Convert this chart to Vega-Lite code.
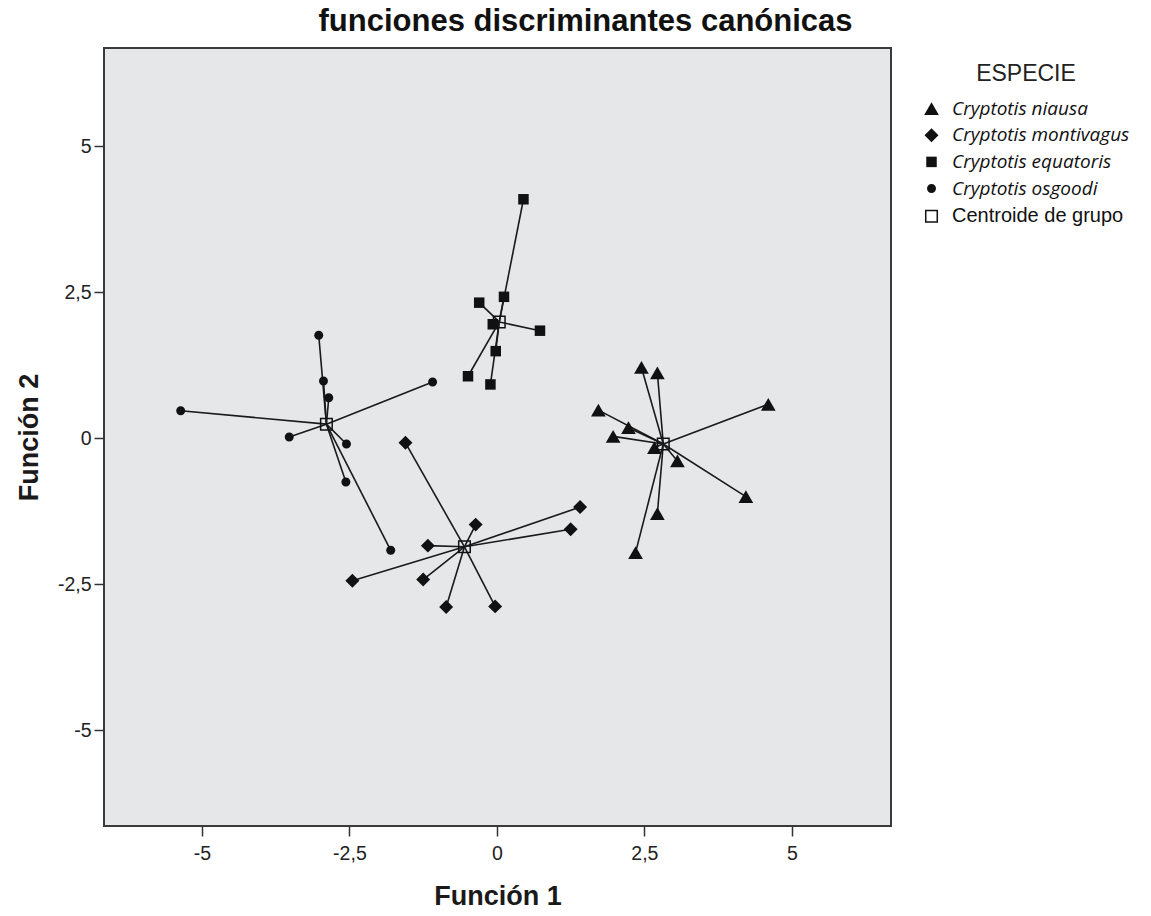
{
  "$schema": "https://vega.github.io/schema/vega-lite/v6.json",
  "width": 787,
  "height": 778,
  "autosize": {"type": "none"},
  "padding": {"left": 104, "top": 48, "right": 260, "bottom": 90},
  "background": "white",
  "title": {
    "text": "funciones discriminantes canónicas",
    "font": "Liberation Sans",
    "fontSize": 31,
    "fontWeight": "bold",
    "color": "#111",
    "anchor": "middle",
    "frame": "group",
    "dx": 88,
    "offset": 10
  },
  "datasets": {
    "pts": [
      {"species": "Cryptotis niausa", "grp": "Cryptotis niausa", "f1": 2.45, "f2": 1.21},
      {"species": "Cryptotis niausa", "grp": "Cryptotis niausa", "f1": 2.72, "f2": 1.12},
      {"species": "Cryptotis niausa", "grp": "Cryptotis niausa", "f1": 4.6, "f2": 0.58},
      {"species": "Cryptotis niausa", "grp": "Cryptotis niausa", "f1": 1.72, "f2": 0.48},
      {"species": "Cryptotis niausa", "grp": "Cryptotis niausa", "f1": 2.23, "f2": 0.18},
      {"species": "Cryptotis niausa", "grp": "Cryptotis niausa", "f1": 1.97, "f2": 0.03},
      {"species": "Cryptotis niausa", "grp": "Cryptotis niausa", "f1": 2.67, "f2": -0.16},
      {"species": "Cryptotis niausa", "grp": "Cryptotis niausa", "f1": 3.06, "f2": -0.39},
      {"species": "Cryptotis niausa", "grp": "Cryptotis niausa", "f1": 4.22, "f2": -1.0},
      {"species": "Cryptotis niausa", "grp": "Cryptotis niausa", "f1": 2.72, "f2": -1.29},
      {"species": "Cryptotis niausa", "grp": "Cryptotis niausa", "f1": 2.35, "f2": -1.96},
      {"species": "Cryptotis montivagus", "grp": "Cryptotis montivagus", "f1": -1.55, "f2": -0.08},
      {"species": "Cryptotis montivagus", "grp": "Cryptotis montivagus", "f1": -0.36, "f2": -1.48},
      {"species": "Cryptotis montivagus", "grp": "Cryptotis montivagus", "f1": 1.41, "f2": -1.18},
      {"species": "Cryptotis montivagus", "grp": "Cryptotis montivagus", "f1": 1.25, "f2": -1.56},
      {"species": "Cryptotis montivagus", "grp": "Cryptotis montivagus", "f1": -1.17, "f2": -1.84},
      {"species": "Cryptotis montivagus", "grp": "Cryptotis montivagus", "f1": -2.45, "f2": -2.44},
      {"species": "Cryptotis montivagus", "grp": "Cryptotis montivagus", "f1": -1.25, "f2": -2.42},
      {"species": "Cryptotis montivagus", "grp": "Cryptotis montivagus", "f1": -0.86, "f2": -2.89},
      {"species": "Cryptotis montivagus", "grp": "Cryptotis montivagus", "f1": -0.03, "f2": -2.88},
      {"species": "Cryptotis equatoris", "grp": "Cryptotis equatoris", "f1": 0.45, "f2": 4.09},
      {"species": "Cryptotis equatoris", "grp": "Cryptotis equatoris", "f1": 0.12, "f2": 2.42},
      {"species": "Cryptotis equatoris", "grp": "Cryptotis equatoris", "f1": -0.3, "f2": 2.32},
      {"species": "Cryptotis equatoris", "grp": "Cryptotis equatoris", "f1": 0.73, "f2": 1.84},
      {"species": "Cryptotis equatoris", "grp": "Cryptotis equatoris", "f1": -0.07, "f2": 1.95},
      {"species": "Cryptotis equatoris", "grp": "Cryptotis equatoris", "f1": -0.02, "f2": 1.49},
      {"species": "Cryptotis equatoris", "grp": "Cryptotis equatoris", "f1": -0.49, "f2": 1.06},
      {"species": "Cryptotis equatoris", "grp": "Cryptotis equatoris", "f1": -0.11, "f2": 0.92},
      {"species": "Cryptotis osgoodi", "grp": "Cryptotis osgoodi", "f1": -3.02, "f2": 1.76},
      {"species": "Cryptotis osgoodi", "grp": "Cryptotis osgoodi", "f1": -2.94, "f2": 0.98},
      {"species": "Cryptotis osgoodi", "grp": "Cryptotis osgoodi", "f1": -2.85, "f2": 0.69},
      {"species": "Cryptotis osgoodi", "grp": "Cryptotis osgoodi", "f1": -5.36, "f2": 0.47},
      {"species": "Cryptotis osgoodi", "grp": "Cryptotis osgoodi", "f1": -1.09, "f2": 0.96},
      {"species": "Cryptotis osgoodi", "grp": "Cryptotis osgoodi", "f1": -3.52, "f2": 0.02},
      {"species": "Cryptotis osgoodi", "grp": "Cryptotis osgoodi", "f1": -2.55, "f2": -0.1},
      {"species": "Cryptotis osgoodi", "grp": "Cryptotis osgoodi", "f1": -2.56, "f2": -0.75},
      {"species": "Cryptotis osgoodi", "grp": "Cryptotis osgoodi", "f1": -1.8, "f2": -1.92}
    ],
    "cents": [
      {"species": "Cryptotis niausa", "grp": "Centroide de grupo", "cf1": 2.82, "cf2": -0.1},
      {"species": "Cryptotis montivagus", "grp": "Centroide de grupo", "cf1": -0.55, "cf2": -1.86},
      {"species": "Cryptotis equatoris", "grp": "Centroide de grupo", "cf1": 0.04, "cf2": 1.99},
      {"species": "Cryptotis osgoodi", "grp": "Centroide de grupo", "cf1": -2.89, "cf2": 0.24}
    ]
  },
  "layer": [
    {
      "data": {"name": "pts"},
      "transform": [
        {"lookup": "species", "from": {"data": {"name": "cents"}, "key": "species", "fields": ["cf1", "cf2"]}}
      ],
      "mark": {"type": "rule", "color": "#1a1a1a", "strokeWidth": 1.6},
      "encoding": {
        "x": {"field": "f1", "type": "quantitative", "title": "Función 1",
          "scale": {"domain": [-6.66, 6.68], "nice": false, "zero": false},
          "axis": {"values": [-5, -2.5, 0, 2.5, 5]}},
        "y": {"field": "f2", "type": "quantitative", "title": "Función 2",
          "scale": {"domain": [-6.64, 6.68], "nice": false, "zero": false},
          "axis": {"values": [-5, -2.5, 0, 2.5, 5]}},
        "x2": {"field": "cf1"},
        "y2": {"field": "cf2"}
      }
    },
    {
      "data": {"name": "pts"},
      "mark": {"type": "point", "filled": true, "opacity": 1, "strokeWidth": 0, "color": "#111111", "size": 225},
      "encoding": {
        "x": {"field": "f1", "type": "quantitative", "title": "Función 1", "axis": {"values": [-5, -2.5, 0, 2.5, 5]}},
        "y": {"field": "f2", "type": "quantitative", "title": "Función 2", "axis": {"values": [-5, -2.5, 0, 2.5, 5]}},
        "shape": {"field": "grp", "type": "nominal", "title": "ESPECIE",
          "scale": {"domain": ["Cryptotis niausa", "Cryptotis montivagus", "Cryptotis equatoris", "Cryptotis osgoodi", "Centroide de grupo"],
                    "range": [
                      "M0,-0.85L0.98,0.85L-0.98,0.85Z",
                      "M0,-0.93L0.93,0L0,0.93L-0.93,0Z",
                      "M-0.7,-0.7H0.7V0.7H-0.7Z",
                      "M-0.6,0A0.6,0.6,0,1,0,0.6,0A0.6,0.6,0,1,0,-0.6,0Z",
                      "M-0.87,-0.87H0.87V0.87H-0.87Z M-0.67,-0.67V0.67H0.67V-0.67Z"
                    ]},
          "legend": {
            "orient": "none",
            "legendX": 818,
            "legendY": 15,
            "labelFontStyle": {"expr": "datum.label == 'Centroide de grupo' ? 'normal' : 'italic'"},
            "labelFont": {"expr": "datum.label == 'Centroide de grupo' ? 'Liberation Sans' : 'Open Sans'"},
            "labelFontSize": {"expr": "datum.label == 'Centroide de grupo' ? 20 : 19"}
          }}
      }
    },
    {
      "data": {"name": "cents"},
      "mark": {"type": "point", "opacity": 1, "filled": true, "strokeWidth": 0, "color": "#111111", "size": 225},
      "encoding": {
        "x": {"field": "cf1", "type": "quantitative", "title": "Función 1", "axis": {"values": [-5, -2.5, 0, 2.5, 5]}},
        "y": {"field": "cf2", "type": "quantitative", "title": "Función 2", "axis": {"values": [-5, -2.5, 0, 2.5, 5]}},
        "shape": {"field": "grp", "type": "nominal", "title": "ESPECIE"}
      }
    }
  ],
  "config": {
    "view": {"fill": "#e6e7e9", "stroke": "#3a3a3a", "strokeWidth": 2},
    "axis": {
      "grid": false,
      "domain": false,
      "ticks": true,
      "tickColor": "#333333",
      "tickWidth": 1.5,
      "tickSize": 10,
      "labelExpr": "replace(toString(datum.value), '.', ',')",
      "labelFont": "Liberation Sans",
      "labelFontSize": 19.5,
      "labelColor": "#222222",
      "titleFont": "Liberation Sans",
      "titleFontSize": 27,
      "titleFontWeight": "bold",
      "titleColor": "#1a1a1a"
    },
    "axisX": {"labelPadding": 8, "titlePadding": 21},
    "axisY": {"labelPadding": 3, "titlePadding": 14},
    "legend": {
      "padding": 0,
      "titleFont": "Liberation Sans",
      "titleFontSize": 23,
      "titleFontWeight": "normal",
      "titleColor": "#222222",
      "titleAnchor": "middle",
      "titlePadding": 13,
      "labelColor": "#111111",
      "labelOffset": 11,
      "labelLimit": 300,
      "rowPadding": 6.7,
      "symbolSize": 225,
      "symbolFillColor": "#111111",
      "symbolStrokeWidth": 0,
      "symbolOpacity": 1
    }
  }
}
